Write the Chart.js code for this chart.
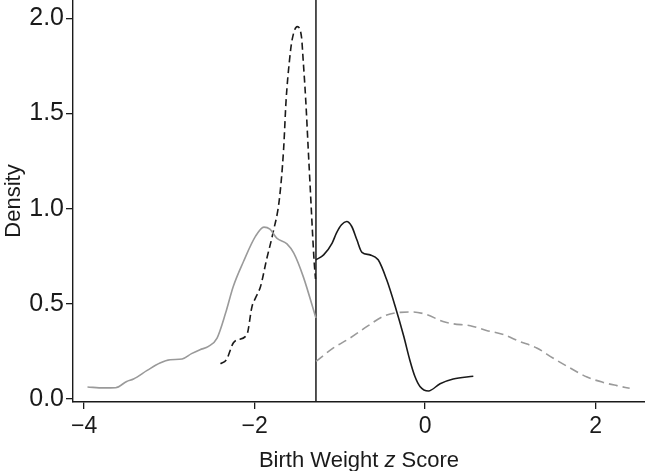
<!DOCTYPE html>
<html>
<head>
<meta charset="utf-8">
<script src="https://cdn.jsdelivr.net/npm/chart.js@4.4.1/dist/chart.umd.min.js"></script>
<style>
  html, body { margin: 0; padding: 0; background: #ffffff; }
  #wrap { width: 645px; height: 471px; }
</style>
</head>
<body>
<div id="wrap"><canvas id="c" width="645" height="471"></canvas></div>
<script>
// ---- data ----
const xTicks = [-4, -2, 0, 2];
const yTicks = [0, 0.5, 1.0, 1.5, 2.0];
const xRange = [-4.13, 2.58];
const yRange = [-0.016, 2.096];
const cutoff = -1.28;

const graySolidZ = [-3.96,-3.77,-3.63,-3.50,-3.42,-3.26,-3.11,-2.99,-2.85,-2.74,-2.64,-2.54,-2.44,-2.34,-2.25,-2.13,-1.99,-1.89,-1.82,-1.74,-1.62,-1.54,-1.43,-1.28];
const graySolidD = [0.063,0.058,0.059,0.092,0.105,0.150,0.189,0.206,0.210,0.238,0.259,0.276,0.320,0.451,0.591,0.722,0.854,0.903,0.892,0.845,0.815,0.766,0.644,0.425];

const blackDashZ = [-2.40,-2.33,-2.25,-2.20,-2.09,-2.03,-1.99,-1.93,-1.86,-1.78,-1.71,-1.66,-1.63,-1.59,-1.56,-1.50,-1.45,-1.43,-1.40,-1.37,-1.34,-1.32,-1.30,-1.285];
const blackDashD = [0.185,0.206,0.294,0.311,0.338,0.486,0.530,0.591,0.731,0.880,1.046,1.308,1.571,1.781,1.886,1.956,1.903,1.781,1.571,1.308,1.046,0.871,0.714,0.63];

const blackSolidZ = [-1.28,-1.19,-1.09,-1.04,-0.98,-0.92,-0.86,-0.80,-0.74,-0.645,-0.55,-0.45,-0.35,-0.25,-0.18,-0.12,-0.06,0.04,0.176,0.33,0.566];
const blackSolidD = [0.731,0.757,0.819,0.871,0.915,0.932,0.906,0.836,0.770,0.757,0.731,0.626,0.486,0.329,0.206,0.119,0.066,0.042,0.080,0.105,0.119];

const grayDashZ = [-1.28,-1.075,-0.88,-0.68,-0.49,-0.29,-0.14,0.02,0.21,0.33,0.53,0.72,0.92,1.11,1.31,1.50,1.70,1.90,2.09,2.25,2.40];
const grayDashD = [0.197,0.268,0.320,0.381,0.434,0.455,0.457,0.443,0.407,0.395,0.385,0.360,0.338,0.302,0.268,0.215,0.163,0.115,0.087,0.070,0.056];

// x title parts: [text, italic]
const xTitleParts = [['Birth Weight ', false], ['z', true], [' Score', false]];
const yTitle = 'Density';

// ---- build ----
const pts = (zs, ds) => zs.map((z, i) => ({x: z, y: ds[i]}));
const FONT = '"Liberation Sans", Arial, Helvetica, sans-serif';
const INK = '#1a1a1a';
const GRAY = '#9a9a9a';
const minus = v => (v < 0 ? '\u2212' + Math.abs(v) : String(v));

const lineDs = (data, color, dash) => ({
  data, borderColor: color, borderWidth: 1.6, borderDash: dash || [],
  pointRadius: 0, cubicInterpolationMode: 'monotone', fill: false
});

const xTitlePlugin = {
  id: 'xTitleMixed',
  afterDraw(chart) {
    const ctx = chart.ctx;
    const area = chart.chartArea;
    const size = 22;
    ctx.save();
    ctx.fillStyle = INK;
    ctx.textBaseline = 'alphabetic';
    const fontOf = it => (it ? 'italic ' : '') + size + 'px ' + FONT;
    let total = 0;
    xTitleParts.forEach(([t, it]) => { ctx.font = fontOf(it); total += ctx.measureText(t).width; });
    let x = (area.left + area.right) / 2 - total / 2;
    const y = 467;
    xTitleParts.forEach(([t, it]) => {
      ctx.font = fontOf(it);
      ctx.textAlign = 'left';
      ctx.fillText(t, x, y);
      x += ctx.measureText(t).width;
    });
    ctx.restore();
  }
};

new Chart(document.getElementById('c'), {
  type: 'line',
  data: {
    datasets: [
      lineDs(pts(graySolidZ, graySolidD), GRAY),
      lineDs(pts(grayDashZ, grayDashD), GRAY, [9, 5]),
      lineDs(pts(blackDashZ, blackDashD), INK, [7, 4]),
      lineDs(pts(blackSolidZ, blackSolidD), INK),
      Object.assign(lineDs([{x: cutoff, y: yRange[0]}, {x: cutoff, y: yRange[1]}], INK), {borderWidth: 1.5, cubicInterpolationMode: 'default', tension: 0})
    ]
  },
  plugins: [xTitlePlugin],
  options: {
    responsive: false,
    animation: false,
    events: [],
    layout: { padding: 0 },
    plugins: { legend: { display: false }, tooltip: { enabled: false } },
    scales: {
      x: {
        type: 'linear', min: xRange[0], max: xRange[1],
        afterBuildTicks: s => { s.ticks = xTicks.map(v => ({value: v})); },
        afterFit: s => { s.height = 69; s.paddingLeft = 0; s.paddingRight = 0; },
        grid: { display: true, drawOnChartArea: false, drawTicks: true, tickLength: 7, color: INK, lineWidth: 1.3 },
        border: { display: true, color: INK, width: 1.4 },
        ticks: { color: INK, padding: 4, maxRotation: 0, autoSkip: false, font: { family: FONT, size: 23 }, callback: v => minus(v) },
        title: { display: false }
      },
      y: {
        type: 'linear', min: yRange[0], max: yRange[1],
        afterBuildTicks: s => { s.ticks = yTicks.map(v => ({value: v})); },
        afterFit: s => { s.width = 73; s.paddingTop = 0; s.paddingBottom = 0; },
        grid: { display: true, drawOnChartArea: false, drawTicks: true, tickLength: 7, color: INK, lineWidth: 1.3 },
        border: { display: true, color: INK, width: 1.4 },
        ticks: { color: INK, padding: 2, autoSkip: false, font: { family: FONT, size: 25 }, callback: v => v.toFixed(1) },
        title: { display: true, text: yTitle, color: INK, padding: {top: 3, bottom: 0}, font: { family: FONT, size: 22, lineHeight: 1 } }
      }
    }
  }
});
</script>
</body>
</html>
